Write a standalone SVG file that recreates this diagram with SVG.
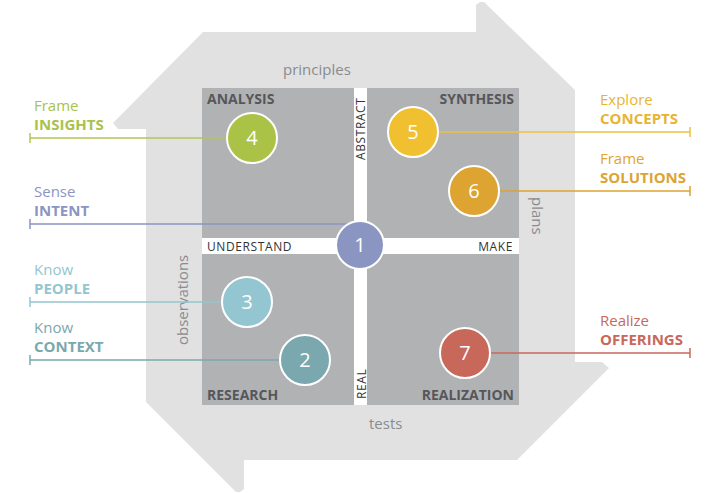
<svg xmlns="http://www.w3.org/2000/svg" width="712" height="493" viewBox="0 0 712 493">
<style>
.lbl{font-family:"Open Sans","Noto Sans",sans-serif;font-size:15px}
.b{font-weight:bold}
.q{font-family:"Open Sans","Noto Sans",sans-serif;font-size:14px;font-weight:bold;fill:#56575a}
.band{font-family:"Open Sans","Noto Sans",sans-serif;font-size:12px;fill:#333;letter-spacing:0.6px}
.side{font-family:"Open Sans","Noto Sans",sans-serif;font-size:15px;fill:#8a8b8d}
.num{font-family:"Open Sans","Noto Sans",sans-serif;font-size:20px;fill:#fff;text-anchor:middle}
.c{stroke:#fff;stroke-width:2}
.ln{fill:none;stroke-width:1.5}
</style>
<rect width="712" height="493" fill="#fff"/>
<g id="frame">
<polygon fill="#e1e1e2" points="203,32 476,32 476,5 480,2 484,2 575,90 575,362 602,362 609,368 517,460 244,460 244,489 240,492 236,492 146,402 146,129 118,129 113,123"/>
<rect x="202" y="88" width="317" height="317" fill="#b1b2b4"/>
<rect x="354" y="88" width="13" height="317" fill="#fff"/>
<rect x="202" y="238" width="317" height="16" fill="#fff"/>
</g>
<g id="texts-static">
<text class="side" x="283" y="75">principles</text>
<text class="side" x="369" y="429">tests</text>
<text class="side" transform="translate(532,197) rotate(90)">plans</text>
<text class="side" transform="translate(188,345) rotate(-90)">observations</text>
<text class="q" x="207" y="104">ANALYSIS</text>
<text class="q" x="514" y="104" text-anchor="end">SYNTHESIS</text>
<text class="q" x="207" y="400">RESEARCH</text>
<text class="q" x="514" y="400" text-anchor="end">REALIZATION</text>
<text class="band" x="207" y="251">UNDERSTAND</text>
<text class="band" x="513" y="251" text-anchor="end">MAKE</text>
<text class="band" transform="translate(365,160) rotate(-90)">ABSTRACT</text>
<text class="band" transform="translate(366,399) rotate(-90)">REAL</text>
</g>
<g id="connectors">
<path class="ln" stroke="#b2c656" d="M30,138H240M30,133V143"/>
<path class="ln" stroke="#8b95c2" d="M30,224H350M30,219V229"/>
<path class="ln" stroke="#93c6d0" d="M30,302H235M30,297V307"/>
<path class="ln" stroke="#7aa8ae" d="M30,360H295M30,355V365"/>
<path class="ln" stroke="#eec040" d="M425,132H690M690,127V137"/>
<path class="ln" stroke="#dda431" d="M485,191H690M690,186V196"/>
<path class="ln" stroke="#c8685b" d="M475,353H690M690,348V358"/>
</g>
<g id="n1"><circle class="c" cx="360" cy="245" r="24" fill="#8b95c2"/><text class="num" x="360" y="252">1</text></g>
<g id="n2"><circle class="c" cx="305" cy="360" r="25" fill="#7aa8ae"/><text class="num" x="305" y="367">2</text></g>
<g id="n3"><circle class="c" cx="247" cy="302" r="25" fill="#93c6d0"/><text class="num" x="247" y="309">3</text></g>
<g id="n4"><circle class="c" cx="252" cy="138" r="25" fill="#aac347"/><text class="num" x="252" y="145">4</text></g>
<g id="n5"><circle class="c" cx="413" cy="132" r="25" fill="#f0c030"/><text class="num" x="413" y="139">5</text></g>
<g id="n6"><circle class="c" cx="474" cy="191" r="25" fill="#dda431"/><text class="num" x="474" y="198">6</text></g>
<g id="n7"><circle class="c" cx="465" cy="353" r="25" fill="#c8685b"/><text class="num" x="465" y="360">7</text></g>
<g id="labels">
<g id="l4" fill="#a9c24a"><text class="lbl" x="34" y="111">Frame</text><text class="lbl b" x="34" y="130">INSIGHTS</text></g>
<g id="l1" fill="#8b95c2"><text class="lbl" x="34" y="197">Sense</text><text class="lbl b" x="34" y="216">INTENT</text></g>
<g id="l3" fill="#93c6d0"><text class="lbl" x="34" y="275">Know</text><text class="lbl b" x="34" y="294">PEOPLE</text></g>
<g id="l2" fill="#7aa8ae"><text class="lbl" x="34" y="333">Know</text><text class="lbl b" x="34" y="352">CONTEXT</text></g>
<g id="l5" fill="#e8b434"><text class="lbl" x="600" y="105">Explore</text><text class="lbl b" x="600" y="124">CONCEPTS</text></g>
<g id="l6" fill="#dda431"><text class="lbl" x="600" y="164">Frame</text><text class="lbl b" x="600" y="183">SOLUTIONS</text></g>
<g id="l7" fill="#c8685b"><text class="lbl" x="600" y="326">Realize</text><text class="lbl b" x="600" y="345">OFFERINGS</text></g>
</g>
</svg>
